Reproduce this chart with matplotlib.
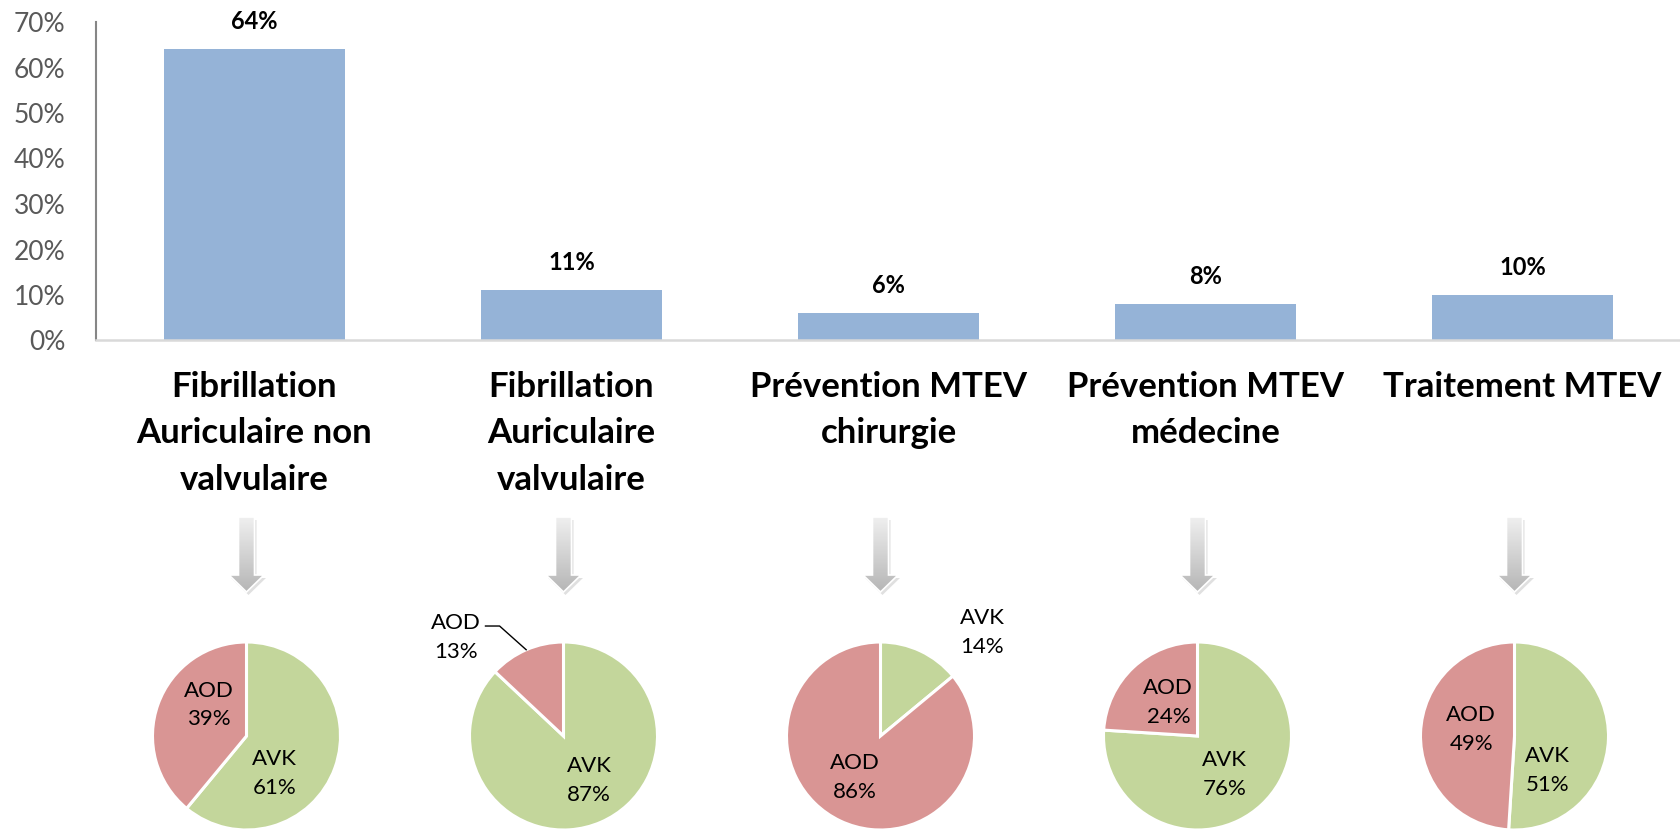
import matplotlib
matplotlib.use("Agg")
import matplotlib.pyplot as plt
from matplotlib.patches import Polygon
import numpy as np

# data
categories = ["Fibrillation\nAuriculaire non\nvalvulaire",
              "Fibrillation\nAuriculaire\nvalvulaire",
              "Prévention MTEV\nchirurgie",
              "Prévention MTEV\nmédecine",
              "Traitement MTEV"]
shares = [0.64, 0.11, 0.06, 0.08, 0.10]
pie_names = ["AVK", "AOD"]
avk = [61, 87, 14, 76, 51]
aod = [39, 13, 86, 24, 49]

# style
bar_col = "#95B3D7"
pie_cols = ["#C3D69B", "#D99594"]
plt.rcParams["font.family"] = ["Lato", "DejaVu Sans"]

W, H = 1680, 830
fig = plt.figure(figsize=(W / 100, H / 100), dpi=100)

# bar chart
x0, x1, ytop, ybot = 96, 1681, 22, 340.5
ax = fig.add_axes([x0 / W, 1 - ybot / H, (x1 - x0) / W, (ybot - ytop) / H])
xs = np.arange(len(categories))
bars = ax.bar(xs, shares, width=0.57, color=bar_col, zorder=2)
ax.set_xlim(-0.5, len(categories) - 0.5)
ax.set_ylim(0, 0.7)
ax.set_yticks(np.arange(0, 0.71, 0.1))
ax.set_yticklabels([f"{int(round(v * 100))}%" for v in np.arange(0, 0.71, 0.1)],
                   fontsize=19, color="#595959")
ax.set_xticks(xs)
ax.set_xticklabels(categories, fontsize=25, fontweight="bold", linespacing=1.55)
ax.tick_params(axis="y", length=0, pad=22)
ax.tick_params(axis="x", length=0, pad=22)
for s in ["top", "right"]:
    ax.spines[s].set_visible(False)
ax.spines["left"].set_color("#868686")
ax.spines["left"].set_linewidth(1.5)
ax.spines["bottom"].set_color("#D9D9D9")
ax.spines["bottom"].set_linewidth(1.8)
for b, v in zip(bars, shares):
    ax.annotate(f"{int(round(v * 100))}%", (b.get_x() + b.get_width() / 2, v),
                xytext=(0, 20), textcoords="offset points", ha="center", va="center",
                fontsize=17, fontweight="bold", annotation_clip=False)

# overlay for arrows (pixel coordinates)
ov = fig.add_axes([0, 0, 1, 1], zorder=-1)
ov.set_xlim(0, W)
ov.set_ylim(H, 0)
ov.axis("off")

step = (x1 - x0) / len(categories)
pie_cx = [x0 + (i + 0.5) * step - 8 for i in range(len(categories))]
pie_cy = 736
R = 94
grad = np.linspace(0, 1, 100).reshape(-1, 1)
cmap = matplotlib.colors.LinearSegmentedColormap.from_list("g", ["#F0F0F0", "#B5B5B5"])
for cx in pie_cx:
    pts = [(cx - 8, 517), (cx + 8, 517), (cx + 8, 575), (cx + 17.5, 575),
           (cx, 592), (cx - 17.5, 575), (cx - 8, 575)]
    sh = Polygon([(px + 2, py + 3) for px, py in pts], closed=True,
                 facecolor="#000000", alpha=0.12, edgecolor="none")
    ov.add_patch(sh)
    poly = Polygon(pts, closed=True, facecolor="none", edgecolor="white", lw=1.2)
    ov.add_patch(poly)
    im = ov.imshow(grad, extent=(cx - 18, cx + 18, 593, 516), cmap=cmap,
                   aspect="auto", zorder=1)
    im.set_clip_path(poly)
    poly.set_zorder(2)

# pies
lbl_xy = [
    {"AVK": (0.30, -0.40), "AOD": (-0.40, 0.33)},
    {"AVK": (0.27, -0.47), "AOD": (-1.14, 1.05)},
    {"AVK": (1.08, 1.10), "AOD": (-0.27, -0.44)},
    {"AVK": (0.29, -0.41), "AOD": (-0.31, 0.36)},
    {"AVK": (0.35, -0.37), "AOD": (-0.46, 0.07)},
]
leaders = [(1, "AOD")]
half = 160
for i, cx in enumerate(pie_cx):
    pa = fig.add_axes([(cx - half) / W, 1 - (pie_cy + half) / H, 2 * half / W, 2 * half / H])
    vals = [avk[i], aod[i]]
    wedges, _ = pa.pie(vals, colors=pie_cols, startangle=90, counterclock=False,
                       radius=1, wedgeprops=dict(edgecolor="white", linewidth=2.2))
    pa.set_xlim(-half / R, half / R)
    pa.set_ylim(-half / R, half / R)
    pa.set_aspect("equal")
    pa.axis("off")
    for name, v, w in zip(pie_names, vals, wedges):
        tx, ty = lbl_xy[i][name]
        pa.text(tx, ty, f"{name}\n{v}%", ha="center", va="center", fontsize=16,
                linespacing=1.55, clip_on=False)
        if (i, name) in leaders:
            mid = np.deg2rad((w.theta1 + w.theta2) / 2)
            ex, ey = 1.0 * np.cos(mid), 1.0 * np.sin(mid)
            sx = tx + 0.31
            sy = ty + 0.12
            pa.plot([sx, sx + 0.15, ex], [sy, sy, ey], color="black", lw=1,
                    clip_on=False)

fig.savefig("out.png", dpi=100)
